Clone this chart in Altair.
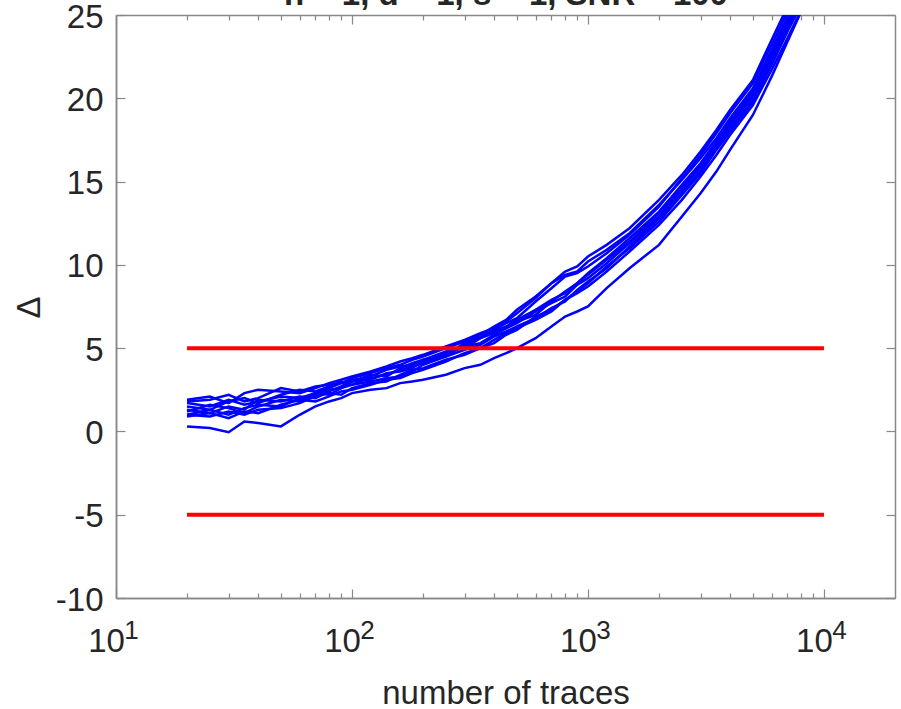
import altair as alt
import pandas as pd

# sample sizes (number of traces) at which each curve was evaluated
n_values = [20, 25, 30, 35, 40, 50, 60, 70, 80, 90,
            100, 120, 140, 160, 180, 200, 250, 300, 350, 400,
            450, 500, 600, 700, 800, 900, 1000, 1200, 1500, 2000,
            2500, 3000, 3500, 4000, 5000, 6000, 7000, 8000, 9000, 10000]

trace_a = [0.3, 0.2, -0.05, 0.6, 0.5, 0.3, 1.0, 1.5, 1.8, 2.0,
           2.3, 2.5, 2.6, 2.9, 3.0, 3.1, 3.4, 3.8, 4.0, 4.4,
           4.7, 5.0, 5.6, 6.3, 6.9, 7.2, 7.5, 8.6, 9.8, 11.2,
           12.9, 14.3, 15.6, 16.9, 19.0, 21.3, 23.4, 25.2, 26.8, 28.3]
trace_b = [1.0, 0.9, 1.2, 1.0, 1.3, 1.4, 1.7, 2.1, 2.3, 2.2,
           2.6, 2.9, 3.0, 3.4, 3.7, 3.8, 4.3, 4.6, 5.0, 5.3,
           5.8, 6.1, 6.9, 7.3, 7.9, 8.4, 8.9, 9.9, 11.0, 12.6,
           14.2, 15.5, 16.9, 18.0, 19.8, 22.0, 24.0, 25.6, 27.2, 28.7]
trace_c = [1.2, 1.6, 1.4, 1.1, 1.5, 1.9, 1.8, 2.3, 2.6, 2.9,
           3.0, 3.1, 3.5, 3.6, 3.8, 4.2, 4.5, 5.2, 5.6, 5.9,
           6.2, 6.6, 7.0, 7.8, 8.4, 8.9, 9.5, 10.4, 11.6, 13.2,
           14.8, 16.1, 17.4, 18.6, 20.4, 22.7, 24.6, 26.3, 27.9, 29.4]
trace_d = [1.9, 2.1, 1.7, 2.3, 2.5, 2.4, 2.3, 2.6, 2.9, 3.1,
           3.3, 3.6, 3.9, 4.2, 4.4, 4.6, 5.1, 5.5, 5.9, 6.2,
           6.6, 7.1, 8.0, 8.9, 9.4, 9.6, 10.2, 10.9, 11.9, 13.6,
           15.1, 16.4, 17.6, 18.8, 20.6, 22.9, 24.9, 26.6, 28.2, 29.7]
trace_e = [1.5, 1.3, 1.8, 2.0, 1.7, 2.2, 2.5, 2.4, 2.7, 3.0,
           2.8, 3.3, 3.7, 3.9, 4.0, 4.3, 4.8, 5.0, 5.6, 6.0,
           6.3, 6.7, 7.3, 7.9, 8.3, 8.9, 9.4, 10.3, 11.4, 13.1,
           14.6, 16.0, 17.3, 18.5, 20.2, 22.5, 24.4, 26.1, 27.7, 29.2]
trace_f = [1.7, 1.5, 1.9, 1.6, 1.8, 2.1, 2.0, 2.2, 2.5, 2.6,
           3.0, 3.4, 3.3, 3.8, 4.1, 4.3, 4.6, 5.3, 5.7, 6.1,
           6.5, 6.8, 7.8, 8.6, 9.3, 9.5, 9.9, 10.7, 11.8, 13.5,
           15.2, 16.6, 17.9, 19.1, 20.9, 23.2, 25.2, 26.9, 28.5, 30.0]
trace_g = [1.0, 1.3, 1.0, 1.4, 1.6, 1.5, 2.0, 2.3, 2.2, 2.6,
           2.8, 3.0, 3.2, 3.3, 3.6, 4.0, 4.5, 4.9, 5.2, 5.7,
           6.0, 6.3, 6.8, 7.4, 7.8, 8.5, 9.0, 9.8, 11.1, 12.8,
           14.3, 15.7, 17.0, 18.2, 19.9, 22.2, 24.1, 25.8, 27.4, 28.9]
trace_h = [1.8, 1.9, 2.2, 1.8, 2.0, 2.6, 2.4, 2.7, 2.8, 2.9,
           3.2, 3.5, 3.8, 4.0, 4.3, 4.5, 5.0, 5.4, 5.8, 6.3,
           6.7, 7.3, 8.1, 8.9, 9.6, 9.9, 10.5, 11.2, 12.2, 13.9,
           15.4, 16.8, 18.1, 19.3, 21.1, 23.5, 25.5, 27.2, 28.8, 30.3]
trace_i = [1.3, 1.1, 1.5, 1.3, 1.9, 1.8, 2.1, 2.0, 2.4, 2.7,
           3.1, 3.2, 3.4, 3.7, 3.9, 4.1, 4.7, 5.1, 5.3, 5.8,
           6.2, 6.5, 7.2, 7.7, 8.1, 8.8, 9.2, 10.1, 11.3, 12.9,
           14.5, 15.9, 17.2, 18.4, 20.1, 22.4, 24.3, 26.0, 27.6, 29.1]
trace_j = [0.9, 1.1, 0.8, 1.2, 1.1, 1.6, 1.9, 1.8, 2.1, 2.4,
           2.5, 2.8, 3.1, 3.2, 3.5, 3.7, 4.2, 4.7, 5.0, 5.5,
           5.9, 6.2, 6.7, 7.2, 7.9, 8.3, 8.7, 9.6, 10.8, 12.4,
           13.9, 15.3, 16.6, 17.8, 19.6, 21.7, 23.6, 25.3, 26.9, 28.4]

traces = {"a": trace_a, "b": trace_b, "c": trace_c, "d": trace_d, "e": trace_e,
          "f": trace_f, "g": trace_g, "h": trace_h, "i": trace_i, "j": trace_j}

# threshold lines
thr_n = [20, 10000]
thr_levels = [5, -5]

# axis ticks
x_major = [10, 100, 1000, 10000]
x_minor = [20, 30, 40, 50, 60, 70, 80, 90,
           200, 300, 400, 500, 600, 700, 800, 900,
           2000, 3000, 4000, 5000, 6000, 7000, 8000, 9000]
y_ticks = [-10, -5, 0, 5, 10, 15, 20, 25]

title_text = "n = 1, d = 1, s = 1, SNR = 100"
x_title = "number of traces"
y_title = "\u0394"

df = pd.DataFrame([{"n": n, "delta": v, "trace": k}
                   for k, vals in traces.items() for n, v in zip(n_values, vals)])
red_df = pd.DataFrame([{"n": n, "delta": lv, "level": str(lv)}
                       for lv in thr_levels for n in thr_n])

W, H = 779, 583
LEFT, TOP = 116, 15
FONT = "Liberation Sans"
TXT = "#262626"
AX = "#888888"
FS = 33

xscale = alt.Scale(type="log", domain=[10, 20000], nice=False)
yscale = alt.Scale(domain=[-10, 25], nice=False, zero=False)

x_ticks_all = sorted(x_major + x_minor)
major_test = "indexof([10, 100, 1000, 10000], datum.value) >= 0"
xtick_size = {"condition": {"test": major_test, "value": 9}, "value": 5}

# main layer: the blue traces, with bottom "10" labels and left labels
lines = alt.Chart(df).mark_line(color="#0000ff", strokeWidth=2.5, clip=True).encode(
    x=alt.X("n:Q", scale=xscale,
            axis=alt.Axis(orient="bottom", values=x_major, ticks=False, grid=False,
                          labelExpr="'10'", labelFont=FONT, labelFontSize=FS,
                          labelColor=TXT, labelPadding=27, labelFlush=False,
                          labelOffset=-10, labelBound=False,
                          domainColor=AX, domainWidth=1.5,
                          title=x_title, titleFont=FONT, titleFontSize=FS,
                          titleFontWeight="normal", titleColor=TXT,
                          titleBaseline="alphabetic", titleY=105)),
    y=alt.Y("delta:Q", scale=yscale,
            axis=alt.Axis(orient="left", values=y_ticks, ticks=False, grid=False,
                          labelExpr="'' + datum.value",
                          labelFont=FONT, labelFontSize=FS, labelColor=TXT,
                          labelPadding=13, labelFlush=False, labelOffset=2,
                          domainColor=AX, domainWidth=1.5,
                          title=y_title, titleFont=FONT, titleFontSize=FS,
                          titleFontWeight="normal", titleColor=TXT,
                          titleBaseline="alphabetic", titleX=-77, titleY=292)),
    detail="trace:N",
)

# threshold lines; axes give the inward ticks on the bottom and left edges
red = alt.Chart(red_df).mark_line(color="#ff0000", strokeWidth=4).encode(
    x=alt.X("n:Q", scale=xscale,
            axis=alt.Axis(orient="top", offset=-H, values=x_ticks_all, labels=False,
                          title=None, grid=False, tickSize=xtick_size, tickColor=AX,
                          tickWidth=1.2, domainColor=AX, domainWidth=1.5)),
    y=alt.Y("delta:Q", scale=yscale,
            axis=alt.Axis(orient="right", offset=-W, values=y_ticks, labels=False,
                          title=None, grid=False, tickSize=9, tickColor=AX,
                          tickWidth=1.2, domainColor=AX, domainWidth=1.5)),
    detail="level:N",
)

# invisible layer whose axes draw the top and right edges with inward ticks;
# the top axis also carries the (mostly cropped) plot title
frame = alt.Chart(red_df).mark_point(opacity=0).encode(
    x=alt.X("n:Q", scale=xscale,
            axis=alt.Axis(orient="bottom", offset=-H, values=x_ticks_all, labels=False,
                          grid=False, tickSize=xtick_size, tickColor=AX,
                          tickWidth=1.2, domainColor=AX, domainWidth=1.5,
                          title=title_text, titleFont=FONT, titleFontSize=33,
                          titleFontWeight="bold", titleColor=TXT,
                          titleBaseline="alphabetic", titleX=W / 2, titleY=-11)),
    y=alt.Y("delta:Q", scale=yscale,
            axis=alt.Axis(orient="left", offset=-W, values=y_ticks, labels=False,
                          title=None, grid=False, tickSize=9, tickColor=AX,
                          tickWidth=1.2, domainColor=AX, domainWidth=1.5)),
)

# invisible layer whose bottom axis draws the decade exponents as superscripts
expo = alt.Chart(red_df).mark_point(opacity=0).encode(
    x=alt.X("n:Q", scale=xscale,
            axis=alt.Axis(orient="bottom", values=x_major, ticks=False, domain=False,
                          grid=False, labelExpr="'' + round(log(datum.value) / LN10)",
                          labelFont=FONT, labelFontSize=26, labelColor=TXT,
                          labelPadding=19, labelOffset=15, labelFlush=False,
                          labelBound=False, title=None)),
)

chart = alt.layer(lines, red, frame, expo).resolve_axis(
    x="independent", y="independent"
).properties(
    width=W, height=H,
    autosize="none",
    padding={"left": LEFT, "top": TOP, "right": 901 - LEFT - W, "bottom": 709 - TOP - H},
).configure_view(stroke=None)

chart.save("out.html", embed_options={"renderer": "svg", "actions": False})
